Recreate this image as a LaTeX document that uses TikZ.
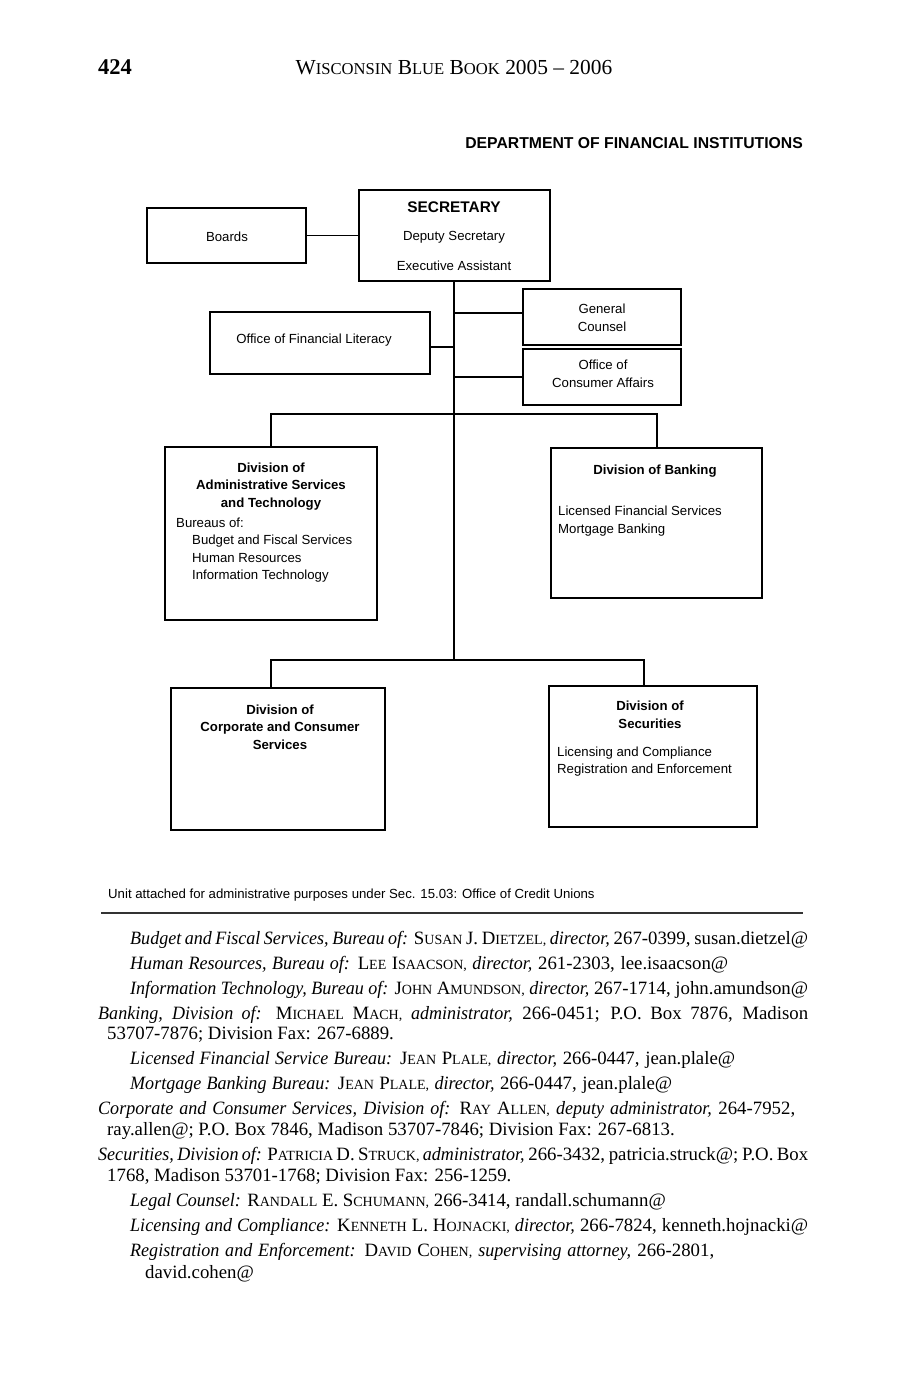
\documentclass[tikz,border=0pt]{standalone}
\usepackage{fontspec}
\setmainfont{Liberation Serif}[ItalicFeatures={FakeStretch=0.96}]
\newfontfamily\chartfont{Liberation Sans}
\newcommand\bsc[1]{{\fontsize{14}{14}\selectfont #1}}
\newcommand\hsc[1]{{\fontsize{16.6}{16.6}\selectfont #1}}
\newcommand\orgbox[5]{\node[box, minimum width={#4-#2}, minimum height={#5-#3}] (#1) at ({(#2+#4)/2},{(#3+#5)/2}) {};}
\begin{document}
\begin{tikzpicture}[x=1pt,y=-1pt,
  box/.style={draw, line width=1.8pt, inner sep=0pt, outer sep=0pt},
  conn/.style={line width=1.8pt},
  ct/.style={font=\chartfont\fontsize{13.2}{16}\selectfont, inner sep=0pt, anchor=mid, yshift=-3pt},
  ctb/.style={font=\chartfont\bfseries\fontsize{13.2}{16}\selectfont, inner sep=0pt, anchor=mid, yshift=-3pt},
  cl/.style={ct, anchor=mid west},
  bt/.style={font=\fontsize{18.8}{22}\selectfont, inner sep=0pt, anchor=mid west, yshift=-4pt}]
\fill[white] (0,0) rectangle (907,1380);
\useasboundingbox (0,0) rectangle (907,1380);

% header
\node[font=\fontsize{22.5}{24}\selectfont\bfseries, inner sep=0pt, anchor=mid west, yshift=-5pt] (pg) at (98,67) {424};
\node[font=\fontsize{21.4}{24}\selectfont, inner sep=0pt, anchor=mid, yshift=-5pt] (hdr) at (454,67) {W\hsc{ISCONSIN} B\hsc{LUE} B\hsc{OOK} 2005 – 2006};
\node[font=\chartfont\bfseries\fontsize{15.75}{18}\selectfont, inner sep=0pt, anchor=mid east, yshift=-3pt] (title) at (803,143) {DEPARTMENT OF FINANCIAL INSTITUTIONS};

% boxes
\orgbox{boards}{147}{208}{306}{263}
\orgbox{sec}{359}{190}{550}{281}
\orgbox{gc}{523}{289}{681}{345}
\orgbox{oca}{523}{349}{681}{405}
\orgbox{ofl}{210}{312}{430}{374}
\orgbox{adm}{165}{447}{377}{620}
\orgbox{bank}{551}{448}{762}{598}
\orgbox{corp}{171}{688}{385}{830}
\orgbox{secu}{549}{686}{757}{827}

% box texts
\node[ct] (tb) at (227,236) {Boards};
\node[ctb, font=\chartfont\bfseries\fontsize{15.4}{18}\selectfont] (ts1) at (454,207) {SECRETARY};
\node[ct] (ts2) at (454,235) {Deputy Secretary};
\node[ct] (ts3) at (454,265) {Executive Assistant};
\node[ct] (tg1) at (602,308) {General};
\node[ct] (tg2) at (602,326) {Counsel};
\node[ct] (to1) at (603,364) {Office of};
\node[ct] (to2) at (603,382) {Consumer Affairs};
\node[ct] (tf) at (314,338) {Office of Financial Literacy};
\node[ctb] (ta1) at (271,467) {Division of};
\node[ctb] (ta2) at (271,484) {Administrative Services};
\node[ctb] (ta3) at (271,502) {and Technology};
\node[cl] (ta4) at (176,522) {Bureaus of:};
\node[cl] (ta5) at (192,539) {Budget and Fiscal Services};
\node[cl] (ta6) at (192,557) {Human Resources};
\node[cl] (ta7) at (192,574) {Information Technology};
\node[ctb] (tk1) at (655,469) {Division of Banking};
\node[cl] (tk2) at (558,510) {Licensed Financial Services};
\node[cl] (tk3) at (558,528) {Mortgage Banking};
\node[ctb] (tc1) at (280,709) {Division of};
\node[ctb] (tc2) at (280,726) {Corporate and Consumer};
\node[ctb] (tc3) at (280,744) {Services};
\node[ctb] (tsc1) at (650,705) {Division of};
\node[ctb] (tsc2) at (650,723) {Securities};
\node[cl] (tsc3) at (557,751) {Licensing and Compliance};
\node[cl] (tsc4) at (557,768) {Registration and Enforcement};

% connectors
\coordinate (tbot) at (454,660);
\coordinate (jgc) at (454,313);
\coordinate (jofl) at (454,347);
\coordinate (joca) at (454,377);
\coordinate (b1l) at (271,414);
\coordinate (b1r) at (657,414);
\coordinate (b2l) at (271,660);
\coordinate (b2r) at (644,660);
\draw[conn] (boards.east) -- (boards.east -| sec.west);
\draw[conn] (sec.south -| tbot) -- (tbot);
\draw[conn] (jgc) -- (jgc -| gc.west);
\draw[conn] (jofl) -- (jofl -| ofl.east);
\draw[conn] (joca) -- (joca -| oca.west);
\draw[conn] (adm.north -| b1l) -- (b1l) -- (b1r) -- (b1r |- bank.north);
\draw[conn] (corp.north -| b2l) -- (b2l) -- (b2r) -- (b2r |- secu.north);

% footnote and rule
\node[cl] (fn) at (108,893) {Unit attached for administrative purposes under Sec. 15.03: Office of Credit Unions};
\coordinate (rl) at (101,913);
\coordinate (rr) at (803,913);
\draw[line width=1.1pt, black!80] (rl) -- (rr);

% body text
\node[bt] (l1) at (130,938) {\makebox[678pt][s]{\textit{Budget and Fiscal Services, Bureau of:} S\bsc{USAN} J. D\bsc{IETZEL,} \textit{director,} 267-0399, susan.dietzel@}};
\node[bt] (l2) at (130,963) {\makebox[598pt][s]{\textit{Human Resources, Bureau of:} L\bsc{EE} I\bsc{SAACSON,} \textit{director,} 261-2303, lee.isaacson@}};
\node[bt] (l3) at (130,988) {\makebox[678pt][s]{\textit{Information Technology, Bureau of:} J\bsc{OHN} A\bsc{MUNDSON,} \textit{director,} 267-1714, john.amundson@}};
\node[bt] (l4) at (98,1013) {\makebox[710pt][s]{\textit{Banking, Division of:} M\bsc{ICHAEL} M\bsc{ACH,} \textit{administrator,} 266-0451; P.O. Box 7876, Madison}};
\node[bt] (l5) at (107,1033) {53707-7876; Division Fax: 267-6889.};
\node[bt] (l6) at (130,1058) {\makebox[605pt][s]{\textit{Licensed Financial Service Bureau:} J\bsc{EAN} P\bsc{LALE,} \textit{director,} 266-0447, jean.plale@}};
\node[bt] (l7) at (130,1083) {\makebox[542pt][s]{\textit{Mortgage Banking Bureau:} J\bsc{EAN} P\bsc{LALE,} \textit{director,} 266-0447, jean.plale@}};
\node[bt] (l8) at (98,1108) {\makebox[697pt][s]{\textit{Corporate and Consumer Services, Division of:} R\bsc{AY} A\bsc{LLEN,} \textit{deputy administrator,} 264-7952,}};
\node[bt] (l9) at (107,1129) {ray.allen@; P.O. Box 7846, Madison 53707-7846; Division Fax: 267-6813.};
\node[bt] (l10) at (98,1154) {\makebox[710pt][s]{\textit{Securities, Division of:} P\bsc{ATRICIA} D. S\bsc{TRUCK,} \textit{administrator,} 266-3432, patricia.struck@; P.O. Box}};
\node[bt] (l11) at (107,1175) {1768, Madison 53701-1768; Division Fax: 256-1259.};
\node[bt] (l12) at (130,1200) {\textit{Legal Counsel:} R\bsc{ANDALL} E. S\bsc{CHUMANN,} 266-3414, randall.schumann@};
\node[bt] (l13) at (130,1225) {\makebox[678pt][s]{\textit{Licensing and Compliance:} K\bsc{ENNETH} L. H\bsc{OJNACKI,} \textit{director,} 266-7824, kenneth.hojnacki@}};
\node[bt] (l14) at (130,1250) {\makebox[584pt][s]{\textit{Registration and Enforcement:} D\bsc{AVID} C\bsc{OHEN,} \textit{supervising attorney,} 266-2801,}};
\node[bt] (l15) at (145,1272) {david.cohen@};
\end{tikzpicture}
\end{document}
